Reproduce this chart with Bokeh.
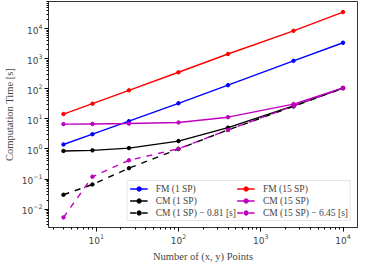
from bokeh.plotting import figure
from bokeh.models import Legend, LegendItem
from bokeh.embed import file_html
from bokeh.resources import INLINE

points = [4, 9, 25, 100, 400, 2500, 10000]
fm_1sp = [1.41, 3.1, 8.4, 33, 132, 850, 3400]
fm_15sp = [14.5, 32, 89, 355, 1440, 8500, 35500]
cm_1sp = [0.86, 0.9, 1.07, 1.83, 5.1, 27, 106]
cm_15sp = [6.7, 6.8, 7.0, 7.6, 11.4, 31, 108]
cm_1sp_shift = [0.030, 0.066, 0.23, 1.0, 4.3, 26, 105]
cm_15sp_shift = [0.0053, 0.12, 0.42, 1.02, 4.3, 27, 106]

series = [
    ("FM (1 SP)", fm_1sp, "#0000ff", "solid"),
    ("CM (1 SP)", cm_1sp, "#000000", "solid"),
    ("CM (1 SP) \u2212 0.81 [s]", cm_1sp_shift, "#000000", "dashed"),
    ("FM (15 SP)", fm_15sp, "#ff0000", "solid"),
    ("CM (15 SP)", cm_15sp, "#bf00bf", "solid"),
    ("CM (15 SP) \u2212 6.45 [s]", cm_15sp_shift, "#bf00bf", "dashed"),
]

p = figure(width=360, height=264, x_axis_type="log", y_axis_type="log",
           x_range=(2.63, 15000), y_range=(0.00245, 80000),
           output_backend="svg", toolbar_location=None,
           min_border_left=39, min_border_right=3, min_border_top=1, min_border_bottom=34)
p.grid.visible = False
p.outline_line_color = "#333333"
p.outline_line_width = 1

items = []
for label, ys, color, dash in series:
    r1 = p.line(points, ys, line_color=color, line_width=1.4, line_dash=dash)
    r2 = p.scatter(points, ys, size=3.5, color=color)
    items.append(LegendItem(label=label, renderers=[r1, r2]))

legend = Legend(items=items, ncols=2, location="bottom_right")
legend.label_text_font = "Liberation Serif"
legend.label_text_font_size = "9.5px"
legend.label_height = 11
legend.glyph_height = 11
legend.glyph_width = 18
legend.label_standoff = 8
legend.spacing = 1
legend.padding = 2
legend.margin = 6
legend.border_line_color = "#cccccc"
legend.background_fill_alpha = 0.8
p.add_layout(legend)

for ax in (p.xaxis[0], p.yaxis[0]):
    ax.major_label_text_font = "DejaVu Sans"
    ax.major_label_text_font_size = "9px"
    ax.axis_label_text_font = "Liberation Serif"
    ax.axis_label_text_font_size = "10.5px"
    ax.axis_label_text_font_style = "normal"
    ax.major_tick_out = 4
    ax.major_tick_in = 0
    ax.minor_tick_out = 2
    ax.minor_tick_in = 0
    ax.axis_line_color = "#333333"

p.xaxis.axis_label = "Number of (x, y) Points"
p.yaxis.axis_label = "Computation Time [s]"
p.xaxis.axis_label_standoff = 4
p.yaxis.axis_label_standoff = 4
p.xaxis.major_label_standoff = 2
p.yaxis.major_label_standoff = 2

open("out.html", "w").write(file_html(p, INLINE))
